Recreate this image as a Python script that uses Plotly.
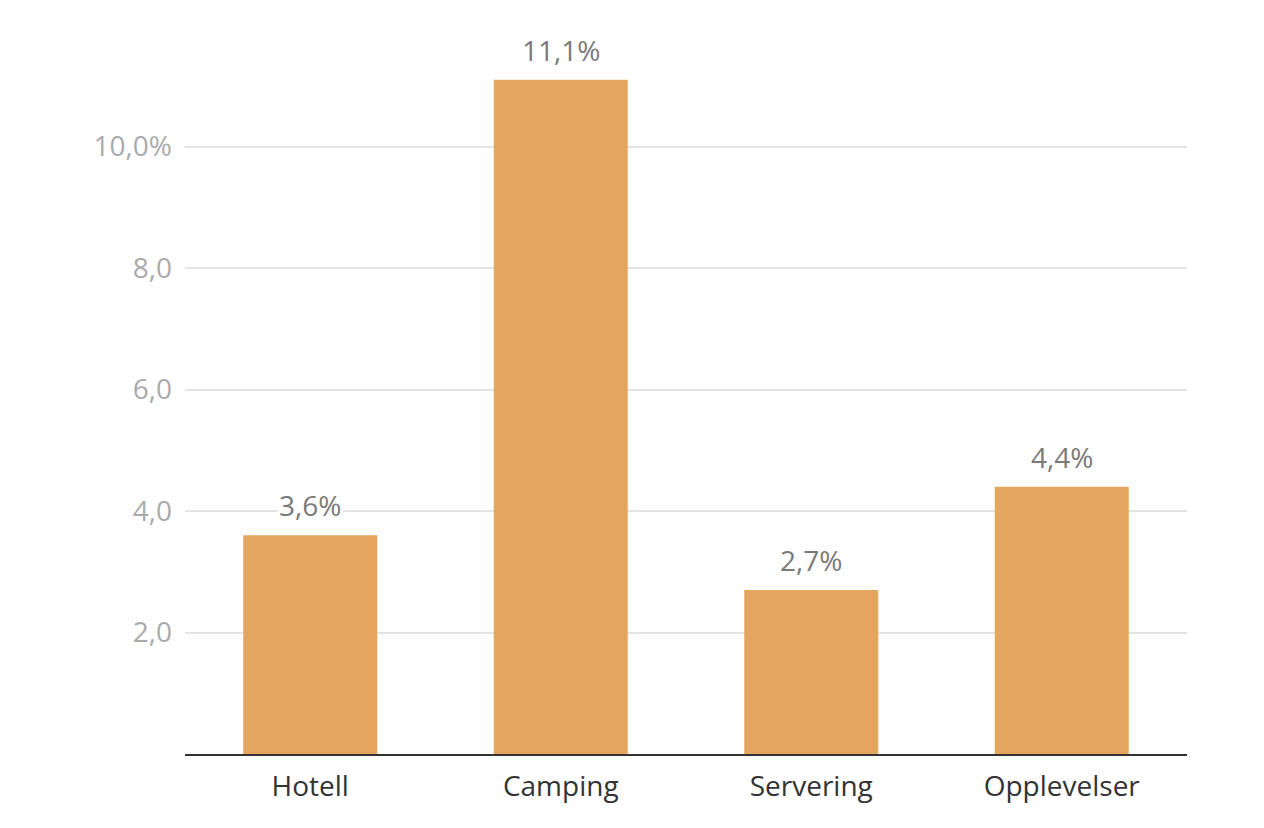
import plotly.graph_objects as go

categories = ["Hotell", "Camping", "Servering", "Opplevelser"]
values = [3.6, 11.1, 2.7, 4.4]
value_labels = ["3,6%", "11,1%", "2,7%", "4,4%"]
tick_vals = [2, 4, 6, 8, 10]
tick_text = ["2,0", "4,0", "6,0", "8,0", "10,0%"]

FONT = "'Open Sans', Lato, sans-serif"

fig = go.Figure()
fig.add_trace(go.Bar(
    x=categories, y=values,
    marker=dict(color="#E4A65E", line=dict(width=0)),
    hoverinfo="skip",
))

for c, v, t in zip(categories, values, value_labels):
    fig.add_annotation(
        x=c, y=v, text=t, showarrow=False, yanchor="bottom", yshift=9,
        font=dict(family=FONT, size=28, color="#7a7a7a", weight=400),
        bgcolor="white", borderpad=1,
    )

fig.update_layout(
    width=1264, height=828,
    margin=dict(l=185, r=77, t=25, b=74),
    paper_bgcolor="white", plot_bgcolor="white",
    bargap=0.465,
    showlegend=False,
    font=dict(family=FONT),
)
fig.update_xaxes(
    showgrid=False, showline=True, linecolor="#333333", linewidth=2,
    ticks="", tickfont=dict(family=FONT, size=28, color="#333333", weight=400),
    ticklabelstandoff=6,
)
fig.update_yaxes(
    range=[0, 12], tickvals=tick_vals, ticktext=tick_text,
    showgrid=True, gridcolor="#e3e3e3", gridwidth=2,
    zeroline=False, showline=False, ticks="",
    tickfont=dict(family=FONT, size=28, color="#aaaaaa", weight=400),
    ticklabelstandoff=12,
)

fig.write_html("out.html")
